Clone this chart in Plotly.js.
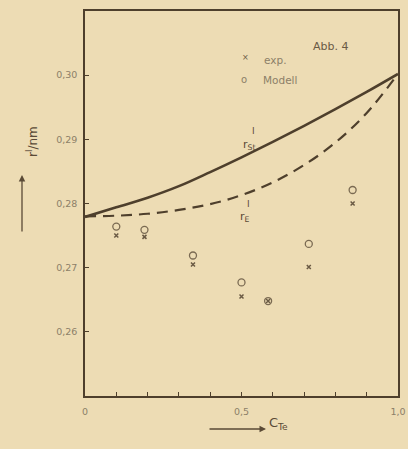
<!DOCTYPE html>
<html>
<head>
<meta charset="utf-8">
<script src="https://cdn.plot.ly/plotly-3.0.1.min.js"></script>
<style>html,body{margin:0;padding:0;background:#eddcb4;}</style>
</head>
<body>
<div id="chart" style="width:408px;height:449px;"></div>
<script>
// Data
const cTe = [0.1, 0.19, 0.345, 0.5, 0.585, 0.715, 0.855];
const rExp = [0.2750, 0.2748, 0.2705, 0.2655, 0.2648, 0.2701, 0.2800];
const rModell = [0.2764, 0.2759, 0.2719, 0.2677, 0.2648, 0.2737, 0.2821];

const curveX = [0, 0.1, 0.2, 0.3, 0.4, 0.5, 0.6, 0.7, 0.8, 0.9, 1.0];
const rSt = [0.2779, 0.2794, 0.2809, 0.2827, 0.2849, 0.2872, 0.2896, 0.2921, 0.2947, 0.2974, 0.3002];
const rE  = [0.2780, 0.2781, 0.2784, 0.2790, 0.2799, 0.2813, 0.2833, 0.2860, 0.2895, 0.2941, 0.3002];

const yTickVals = [0.26, 0.27, 0.28, 0.29, 0.30];
const yTickText = ['0,26', '0,27', '0,28', '0,29', '0,30'];
const xTickVals = [0, 0.5, 1.0];
const xTickText = ['0', '0,5', '1,0'];

const ink = '#4e3f2c';
const faint = '#8c7f68';
const label = '#5a4a36';

const traces = [
  {x: curveX, y: rSt, mode: 'lines', line: {color: ink, width: 2.6, shape: 'spline'}, showlegend: false, hoverinfo: 'skip'},
  {x: curveX, y: rE, mode: 'lines', line: {color: ink, width: 2.2, shape: 'spline', dash: '11px,7px'}, showlegend: false, hoverinfo: 'skip'},
  {x: cTe, y: rExp, mode: 'markers', name: 'exp.', showlegend: false,
   marker: {symbol: 'x-thin', size: 4, line: {color: '#6a5a44', width: 1.5}, color: '#6a5a44'}},
  {x: cTe, y: rModell, mode: 'markers', name: 'Modell', showlegend: false,
   marker: {symbol: 'circle-open', size: 7, line: {color: '#7a6a52', width: 1.3}, color: '#7a6a52'}}
];

function px(x) { return (x - 85) / 313; }
function py(y) { return (396 - y) / 385; }

const layout = {
  width: 408, height: 449,
  paper_bgcolor: '#eddcb4', plot_bgcolor: '#eddcb4',
  margin: {l: 85, r: 10, t: 11, b: 53},
  font: {family: 'DejaVu Sans, sans-serif', color: faint, size: 9},
  showlegend: false,
  xaxis: {range: [0, 1], tickvals: xTickVals, ticktext: xTickText, ticks: 'inside', ticklen: 4,
          tickcolor: ink, showline: true, linecolor: ink, linewidth: 1.8, mirror: true,
          showgrid: false, zeroline: false, tickfont: {size: 9.5, color: faint}, ticklabelstandoff: 6,
          minor: {dtick: 0.1, ticks: 'inside', ticklen: 4, tickcolor: ink, showgrid: false}},
  yaxis: {range: [0.25, 0.31], tickvals: yTickVals, ticktext: yTickText, ticks: 'inside', ticklen: 4,
          tickcolor: ink, showline: true, linecolor: ink, linewidth: 1.8, mirror: true,
          showgrid: false, zeroline: false, tickfont: {size: 9.5, color: faint}, ticklabelstandoff: 4},
  annotations: [
    {xref: 'paper', yref: 'paper', x: px(350), y: py(38), text: 'Abb. 4', showarrow: false,
     font: {size: 11, color: '#6a5a44'}},
    // legend drawn as text
    {xref: 'paper', yref: 'paper', x: px(245), y: py(51), text: '×', showarrow: false, font: {size: 8, color: '#6a5a44'}},
    {xref: 'paper', yref: 'paper', x: px(262), y: py(52), xanchor: 'left', text: 'exp.', showarrow: false, font: {size: 10.5, color: faint}},
    {xref: 'paper', yref: 'paper', x: px(244), y: py(72), text: 'o', showarrow: false, font: {size: 10, color: faint}},
    {xref: 'paper', yref: 'paper', x: px(261), y: py(72), xanchor: 'left', text: 'Modell', showarrow: false, font: {size: 10.5, color: faint}},
    // curve labels
    {xref: 'paper', yref: 'paper', x: px(249), y: py(136), text: 'r<sub>St</sub>', showarrow: false, font: {size: 11, color: label}},
    {xref: 'paper', yref: 'paper', x: px(253), y: py(124), text: 'I', showarrow: false, font: {size: 9, color: label}},
    {xref: 'paper', yref: 'paper', x: px(245), y: py(217), text: 'r<sub>E</sub>', showarrow: false, font: {size: 11, color: label}},
    {xref: 'paper', yref: 'paper', x: px(248), y: py(204), text: 'I', showarrow: false, font: {size: 9, color: label}},
    // y axis title with arrow
    {xref: 'paper', yref: 'paper', x: px(22), y: py(142), text: 'r<sup>I</sup>/nm',
     textangle: -90, showarrow: false, font: {size: 12, color: label}},
    {xref: 'paper', yref: 'paper', x: px(22), y: py(175), ax: 0, ay: 58, text: '',
     showarrow: true, arrowhead: 2, arrowsize: 1, arrowwidth: 1.3, arrowcolor: label},
    // x axis title with arrow
    {xref: 'paper', yref: 'paper', x: px(267), y: py(434), xanchor: 'left', text: 'C<sub>Te</sub>',
     showarrow: false, font: {size: 13, color: label}},
    {xref: 'paper', yref: 'paper', x: px(266), y: py(429), ax: -58, ay: 0, text: '',
     showarrow: true, arrowhead: 2, arrowsize: 1, arrowwidth: 1.3, arrowcolor: label}
  ]
};

Plotly.newPlot('chart', traces, layout, {displayModeBar: false, staticPlot: true});
</script>
</body>
</html>
